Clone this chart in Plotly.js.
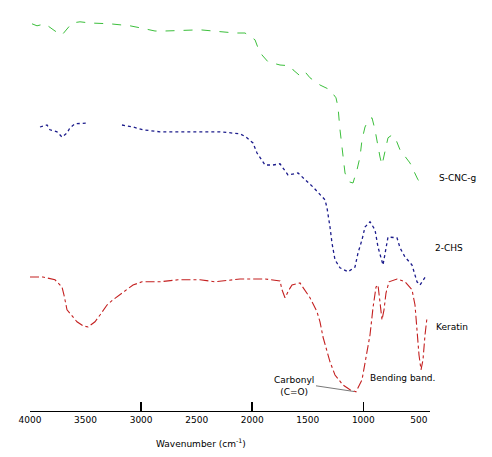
<!DOCTYPE html>
<html><head><meta charset="utf-8">
<script src="https://cdn.plot.ly/plotly-3.0.1.min.js"></script>
<style>html,body{margin:0;padding:0;background:#fff}#c{width:492px;height:457px}</style>
</head><body><div id="c"></div>
<script>
// Wavenumber (cm^-1) and offset transmittance (a.u.)
const greenWn = [3982,3937,3865,3820,3775,3712,3658,3622,3550,3460,3280,3100,3010,2875,2785,2470,2155,2065,1975,1948,1912,1858,1750,1660,1633,1570,1525,1480,1390,1300,1246,1228,1210,1183,1165,1129,1093,1057,1030,1012,985,949,922,895,868,850,832,805,778,742,706,670,580,508,472];
const greenT = [96.8,96.3,96.8,95.8,95.0,94.0,95.8,97.0,97.3,97.0,96.8,96.3,95.8,95.0,95.0,95.3,94.5,94.5,92.8,90.8,89.0,87.3,86.5,86.3,85.3,83.8,84.8,83.3,81.5,80.3,78.3,76.0,70.3,64.0,59.5,57.3,57.0,60.3,63.5,67.8,71.0,73.0,73.3,70.3,66.0,63.5,61.5,65.3,68.3,69.0,67.8,65.3,62.0,57.8,57.0];

const blueWn = [3910,3847,3820,3757,3712,3667,3640,3595,3487,3330,3172,3073,2983,2830,2560,2290,2110,2056,1993,1957,1885,1813,1750,1678,1588,1453,1345,1327,1300,1282,1255,1210,1138,1075,1048,1012,985,940,895,868,823,778,697,670,625,562,517,490,436];
const blueT = [71.0,71.5,70.3,69.8,68.5,69.5,70.8,71.8,72.0,null,71.5,71.0,70.3,69.8,69.8,69.8,69.3,68.5,67.0,64.5,61.5,61.5,61.8,59.0,59.5,56.0,52.8,50.8,46.0,42.0,37.8,35.8,34.8,36.0,39.5,42.8,46.0,47.3,45.3,41.0,36.5,43.5,43.3,40.8,38.5,36.5,32.3,31.5,33.8];

const redWn = [4000,3883,3775,3712,3694,3667,3577,3523,3478,3415,3370,3307,3253,3073,2992,2830,2668,2470,2335,2110,1885,1750,1732,1705,1669,1642,1570,1525,1480,1417,1390,1363,1327,1300,1255,1183,1120,1066,1012,976,940,913,886,868,850,832,814,796,769,697,625,562,535,517,499,481,463,445,427];
const redT = [33.5,33.5,32.8,31.0,29.0,25.3,22.3,21.3,21.0,22.3,24.0,26.5,27.8,31.5,32.3,32.3,32.8,32.8,32.3,33.0,33.0,32.5,30.3,28.3,30.3,31.5,32.0,30.3,28.3,24.8,22.3,18.5,15.3,12.3,9.0,6.5,5.3,4.8,7.8,13.5,19.0,25.8,31.0,31.5,27.8,22.8,25.3,29.5,32.3,33.0,32.3,30.3,26.5,20.3,14.0,10.3,12.8,19.0,23.3];

const seriesNames = ["S-CNC-g", "2-CHS", "Keratin"];
const tickVals = [4000,3500,3000,2500,2000,1500,1000,500];
const tickText = ["4000","3500","3000","2500","2000","1500","1000","500"];

const font = {family: "DejaVu Sans, sans-serif", size: 9, color: "#000"};

const traces = [
  {x: greenWn, y: greenT, name: seriesNames[0], mode: "lines", line: {color: "#3cbf3c", width: 1, dash: "dash"}},
  {x: blueWn, y: blueT, name: seriesNames[1], mode: "lines", connectgaps: false, line: {color: "#1c1c8c", width: 1.3, dash: "dot"}},
  {x: redWn, y: redT, name: seriesNames[2], mode: "lines", line: {color: "#c42020", width: 1.1, dash: "dashdot"}}
];

function px(xp) { return (xp - 30) / 400; }
function py(yp) { return (411 - yp) / 401; }

const layout = {
  width: 492, height: 457,
  margin: {l: 30, r: 62, t: 10, b: 46},
  paper_bgcolor: "#fff", plot_bgcolor: "#fff",
  showlegend: false,
  font: font,
  xaxis: {
    range: [4000, 400], autorange: false,
    tickvals: tickVals, ticktext: tickText,
    ticks: "", showgrid: false, zeroline: false,
    showline: true, linecolor: "#000", linewidth: 1,
    tickfont: font,
    minor: {tickvals: [3000, 2000, 1000], ticks: "inside", ticklen: 9, tickcolor: "#000", tickwidth: 1.5, showgrid: false}
  },
  yaxis: {range: [0, 100.25], autorange: false, visible: false, showgrid: false, zeroline: false},
  annotations: [
    {xref: "paper", yref: "paper", x: px(201), y: py(443), yanchor: "middle", xanchor: "center", showarrow: false, text: "Wavenumber (cm<sup>-1</sup>)", font: font},
    {xref: "paper", yref: "paper", x: px(437), y: py(178), xanchor: "left", yanchor: "middle", showarrow: false, text: seriesNames[0], font: font},
    {xref: "paper", yref: "paper", x: px(433), y: py(248), xanchor: "left", yanchor: "middle", showarrow: false, text: seriesNames[1], font: font},
    {xref: "paper", yref: "paper", x: px(434), y: py(327), xanchor: "left", yanchor: "middle", showarrow: false, text: seriesNames[2], font: font},
    {xref: "x", yref: "y", x: 1066, y: 4.8, ax: -40, ay: -6, axref: "pixel", ayref: "pixel", showarrow: true, arrowhead: 0, arrowwidth: 0.8, arrowcolor: "#555", text: "Carbonyl<br>(C=O)", font: font, xanchor: "right", align: "center", standoff: 2},
    {xref: "paper", yref: "paper", x: px(437), y: py(385), showarrow: false, text: "Bending band.", font: font}
  ]
};

Plotly.newPlot("c", traces, layout, {staticPlot: true, displayModeBar: false});
</script>
</body></html>
